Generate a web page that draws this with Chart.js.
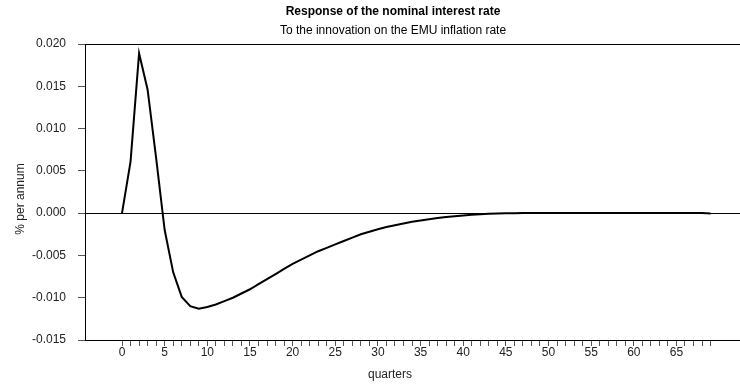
<!DOCTYPE html>
<html>
<head>
<meta charset="utf-8">
<script src="https://cdn.jsdelivr.net/npm/chart.js@4/dist/chart.umd.min.js"></script>
<style>
  html, body { margin: 0; padding: 0; background: #fff; }
  #wrap { width: 740px; height: 384px; }
</style>
</head>
<body>
<div id="wrap"><canvas id="irfChart" width="740" height="384"></canvas></div>
<script>
const titleText = 'Response of the nominal interest rate';
const subtitleText = 'To the innovation on the EMU inflation rate';
const xTitle = 'quarters';
const yTitle = '% per annum';

// quarters 0..69
const quarters = Array.from({ length: 70 }, (_, i) => i);
const xTickLabels = [0, 5, 10, 15, 20, 25, 30, 35, 40, 45, 50, 55, 60, 65];
const yTicks = [0.020, 0.015, 0.010, 0.005, 0.000, -0.005, -0.010, -0.015];

// response
const response = [
    0, 0.0061, 0.0189, 0.0146, 0.0065, -0.0020, -0.0070, -0.0099, -0.0110, -0.0113,
    -0.0111, -0.0108, -0.0104, -0.0100, -0.0095, -0.0090, -0.0084, -0.0078, -0.0072, -0.0066,
    -0.0060, -0.0055, -0.0050, -0.0045, -0.0041, -0.0037, -0.0033, -0.0029, -0.0025, -0.0022,
    -0.0019, -0.00165, -0.00143, -0.00122, -0.00103, -0.00087, -0.00072, -0.00058, -0.00046, -0.00036,
    -0.00028, -0.0002, -0.00013, -0.00008, -0.00004, -0.00002, 0, 0.00002, 0.00002, 0.00002,
    0.00002, 0.00002, 0.00002, 0.00002, 0.00002, 0.00002, 0.00002, 0.00002, 0.00002, 0.00002,
    0.00002, 0.00002, 0.00002, 0.00002, 0.00002, 0.00002, 0.00002, 0.00002, 0.00001, -0.00003
];

const FONT = '"Liberation Sans", Arial, Helvetica, sans-serif';
Chart.defaults.font.family = FONT;
Chart.defaults.font.size = 12;
Chart.defaults.color = '#222';

// titles drawn by hand, the original centres them off the plot area
const headings = {
    id: 'headings',
    afterDraw(chart) {
        const c = chart.ctx;
        c.save();
        c.fillStyle = '#000';
        c.textAlign = 'center';
        c.textBaseline = 'middle';
        c.font = 'bold 12px ' + FONT;
        c.fillText(titleText, 393, 12);
        c.font = '12px ' + FONT;
        c.fillText(subtitleText, 393, 31);
        c.fillStyle = '#222';
        c.fillText(xTitle, 390, 375);
        c.translate(21, 199);
        c.rotate(-Math.PI / 2);
        c.fillText(yTitle, 0, 0);
        c.restore();
    }
};

new Chart(document.getElementById('irfChart').getContext('2d'), {
    type: 'line',
    data: {
        labels: quarters,
        datasets: [{
            data: quarters.map((q, i) => ({ x: q, y: response[i] })),
            borderColor: '#000',
            borderWidth: 2,
            pointRadius: 0,
            tension: 0,
            fill: false
        }]
    },
    options: {
        responsive: false,
        animation: false,
        layout: { padding: { top: 44, right: 0, left: 0, bottom: 0 } },
        plugins: {
            legend: { display: false },
            tooltip: { enabled: false }
        },
        scales: {
            x: {
                type: 'linear',
                min: -4.34,
                max: 72.45,
                afterBuildTicks: scale => {
                    scale.ticks = quarters.map(v => ({ value: v }));
                },
                afterFit: scale => { scale.height = 44; },
                ticks: {
                    autoSkip: false,
                    maxRotation: 0,
                    padding: -1,
                    color: '#222',
                    callback: v => (xTickLabels.includes(v) ? String(v) : '')
                },
                grid: {
                    drawOnChartArea: false,
                    tickLength: 6,
                    tickColor: '#555'
                },
                border: { display: true, color: '#000', width: 1 }
            },
            y: {
                min: -0.015,
                max: 0.020,
                afterBuildTicks: scale => {
                    scale.ticks = yTicks.map(v => ({ value: v }));
                },
                afterFit: scale => { scale.width = 85; },
                ticks: {
                    padding: 12,
                    color: '#222',
                    callback: v => v.toFixed(3)
                },
                grid: {
                    tickLength: 7,
                    tickColor: '#555',
                    color: ctx => (ctx.tick && (ctx.tick.value === 0 || ctx.tick.value === 0.02) ? '#000' : 'rgba(0,0,0,0)'),
                    lineWidth: 1
                },
                border: { display: true, color: '#000', width: 1 }
            }
        }
    },
    plugins: [headings]
});
</script>
</body>
</html>
